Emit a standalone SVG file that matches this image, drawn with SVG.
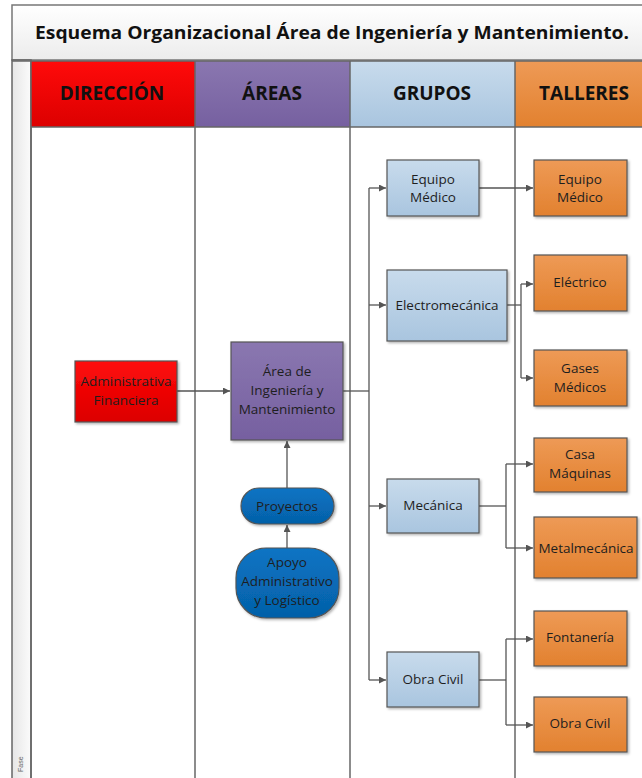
<svg xmlns="http://www.w3.org/2000/svg" width="642" height="778" viewBox="0 0 642 778">
<defs>
<linearGradient id="gRed" x1="0" y1="0" x2="0" y2="1"><stop offset="0" stop-color="#ff0a0a"/><stop offset="1" stop-color="#dc0000"/></linearGradient>
<linearGradient id="gPur" x1="0" y1="0" x2="0" y2="1"><stop offset="0" stop-color="#8a77b0"/><stop offset="1" stop-color="#7660a0"/></linearGradient>
<linearGradient id="gBlu" x1="0" y1="0" x2="0" y2="1"><stop offset="0" stop-color="#c8dbec"/><stop offset="1" stop-color="#a9c5df"/></linearGradient>
<linearGradient id="gOra" x1="0" y1="0" x2="0" y2="1"><stop offset="0" stop-color="#ee9a56"/><stop offset="1" stop-color="#e2812f"/></linearGradient>
<linearGradient id="gDb" x1="0" y1="0" x2="0" y2="1"><stop offset="0" stop-color="#0a74c4"/><stop offset="1" stop-color="#0560a8"/></linearGradient>
<linearGradient id="gTitle" x1="0" y1="0" x2="0" y2="1"><stop offset="0" stop-color="#ffffff"/><stop offset="1" stop-color="#ececec"/></linearGradient>
<linearGradient id="gStrip" x1="0" y1="0" x2="1" y2="0"><stop offset="0" stop-color="#e6e6e6"/><stop offset="1" stop-color="#fbfbfb"/></linearGradient>
<filter id="sh" x="-10%" y="-10%" width="130%" height="130%"><feDropShadow dx="1.5" dy="1.5" stdDeviation="1" flood-color="#000" flood-opacity="0.3"/></filter>
<marker id="arr" viewBox="0 0 10 10" refX="10" refY="5" markerWidth="7" markerHeight="7" orient="auto" markerUnits="userSpaceOnUse"><path d="M0,0 L10,5 L0,10 z" fill="#555"/></marker>
</defs>
<style>
.lane{stroke:#666;stroke-width:1.5;fill:none}
.hdr{font-family:"Open Sans","Liberation Sans",sans-serif;font-weight:bold;font-size:19px;fill:#111;text-anchor:middle}
.nt{font-family:"Open Sans","Liberation Sans",sans-serif;font-size:13.5px;fill:#1e1e1e;text-anchor:middle}
.box{stroke:#555;stroke-width:1.2;filter:url(#sh)}
.con{stroke:#555;stroke-width:1.3;fill:none}
.ca{stroke:#555;stroke-width:1.3;fill:none;marker-end:url(#arr)}
</style>
<rect x="0" y="0" width="642" height="778" fill="#ffffff"/>
<g id="frame">
<rect x="12" y="5" width="640" height="55" fill="url(#gTitle)" stroke="#777" stroke-width="1.5"/>
<text x="332" y="39" font-family="'Open Sans','Liberation Sans',sans-serif" font-weight="bold" font-size="17" fill="#111" text-anchor="middle" textLength="594" lengthAdjust="spacingAndGlyphs">Esquema Organizacional Área de Ingeniería y Mantenimiento.</text>
<rect x="12" y="60" width="19" height="730" fill="url(#gStrip)" stroke="#666" stroke-width="1.5"/>
<text transform="translate(23,772) rotate(-90)" font-family="'Liberation Sans',sans-serif" font-size="7" fill="#666">Fase</text>
<rect x="31" y="61" width="164" height="66" fill="url(#gRed)"/>
<rect x="195" y="61" width="155" height="66" fill="url(#gPur)"/>
<rect x="350" y="61" width="165" height="66" fill="url(#gBlu)"/>
<rect x="515" y="61" width="140" height="66" fill="url(#gOra)"/>
<line class="lane" x1="12" y1="61" x2="642" y2="61"/>
<line class="lane" x1="31" y1="127" x2="642" y2="127"/>
<line class="lane" x1="31" y1="61" x2="31" y2="778"/>
<line class="lane" x1="195" y1="61" x2="195" y2="778"/>
<line class="lane" x1="350" y1="61" x2="350" y2="778"/>
<line class="lane" x1="515" y1="61" x2="515" y2="778"/>
<text class="hdr" x="112" y="100">DIRECCIÓN</text>
<text class="hdr" x="272" y="100">ÁREAS</text>
<text class="hdr" x="432" y="100">GRUPOS</text>
<text class="hdr" x="584" y="100">TALLERES</text>
</g>
<g id="connectors">
<line class="ca" x1="177" y1="391" x2="230" y2="391"/>
<polyline class="con" points="343,391 369,391"/>
<line class="con" x1="369" y1="188" x2="369" y2="680"/>
<line class="ca" x1="369" y1="188" x2="386" y2="188"/>
<line class="ca" x1="369" y1="305" x2="386" y2="305"/>
<line class="ca" x1="369" y1="506" x2="386" y2="506"/>
<line class="ca" x1="369" y1="680" x2="386" y2="680"/>
<line class="ca" x1="479" y1="188" x2="533" y2="188"/>
<polyline class="con" points="507,305 521,305"/>
<line class="con" x1="521" y1="284" x2="521" y2="378"/>
<line class="ca" x1="521" y1="284" x2="533" y2="284"/>
<line class="ca" x1="521" y1="378" x2="533" y2="378"/>
<polyline class="con" points="479,506 506,506"/>
<line class="con" x1="506" y1="464" x2="506" y2="548"/>
<line class="ca" x1="506" y1="464" x2="533" y2="464"/>
<line class="ca" x1="506" y1="548" x2="533" y2="548"/>
<polyline class="con" points="479,680 506,680"/>
<line class="con" x1="506" y1="639" x2="506" y2="725"/>
<line class="ca" x1="506" y1="639" x2="533" y2="639"/>
<line class="ca" x1="506" y1="725" x2="533" y2="725"/>
<line class="ca" x1="287" y1="548" x2="287" y2="525"/>
<line class="ca" x1="287" y1="488" x2="287" y2="441"/>
</g>
<g id="n-admin"><rect class="box" x="75" y="361" width="102" height="61" fill="url(#gRed)"/><text class="nt" x="126" y="386">Administrativa</text><text class="nt" x="126" y="405">Financiera</text></g>
<g id="n-area"><rect class="box" x="231" y="342" width="112" height="98" fill="url(#gPur)"/><text class="nt" x="287" y="376">Área de</text><text class="nt" x="287" y="395">Ingeniería y</text><text class="nt" x="287" y="414">Mantenimiento</text></g>
<g id="n-proy"><rect class="box" x="241" y="488" width="93" height="36" rx="18" fill="url(#gDb)" stroke="#1f3f66"/><text class="nt" x="287" y="511">Proyectos</text></g>
<g id="n-apoyo"><rect class="box" x="236" y="548" width="103" height="70" rx="30" fill="url(#gDb)" stroke="#1f3f66"/><text class="nt" x="287" y="567">Apoyo</text><text class="nt" x="287" y="586">Administrativo</text><text class="nt" x="287" y="605">y Logístico</text></g>
<g id="g-equipo"><rect class="box" x="387" y="160" width="92" height="56" fill="url(#gBlu)"/><text class="nt" x="433" y="184">Equipo</text><text class="nt" x="433" y="202">Médico</text></g>
<g id="g-electro"><rect class="box" x="387" y="270" width="120" height="71" fill="url(#gBlu)"/><text class="nt" x="447" y="310">Electromecánica</text></g>
<g id="g-mec"><rect class="box" x="387" y="479" width="92" height="54" fill="url(#gBlu)"/><text class="nt" x="433" y="510">Mecánica</text></g>
<g id="g-obra"><rect class="box" x="387" y="652" width="92" height="55" fill="url(#gBlu)"/><text class="nt" x="433" y="684">Obra Civil</text></g>
<g id="t-equipo"><rect class="box" x="534" y="160" width="93" height="56" fill="url(#gOra)"/><text class="nt" x="580" y="184">Equipo</text><text class="nt" x="580" y="202">Médico</text></g>
<g id="t-elec"><rect class="box" x="534" y="255" width="93" height="56" fill="url(#gOra)"/><text class="nt" x="580" y="287">Eléctrico</text></g>
<g id="t-gases"><rect class="box" x="534" y="350" width="93" height="56" fill="url(#gOra)"/><text class="nt" x="580" y="373">Gases</text><text class="nt" x="580" y="392">Médicos</text></g>
<g id="t-casa"><rect class="box" x="534" y="438" width="93" height="54" fill="url(#gOra)"/><text class="nt" x="580" y="459">Casa</text><text class="nt" x="580" y="478">Máquinas</text></g>
<g id="t-metal"><rect class="box" x="534" y="517" width="103" height="61" fill="url(#gOra)"/><text class="nt" x="586" y="553">Metalmecánica</text></g>
<g id="t-fonta"><rect class="box" x="534" y="611" width="93" height="55" fill="url(#gOra)"/><text class="nt" x="580" y="642">Fontanería</text></g>
<g id="t-obra"><rect class="box" x="534" y="697" width="93" height="55" fill="url(#gOra)"/><text class="nt" x="580" y="728">Obra Civil</text></g>
</svg>
